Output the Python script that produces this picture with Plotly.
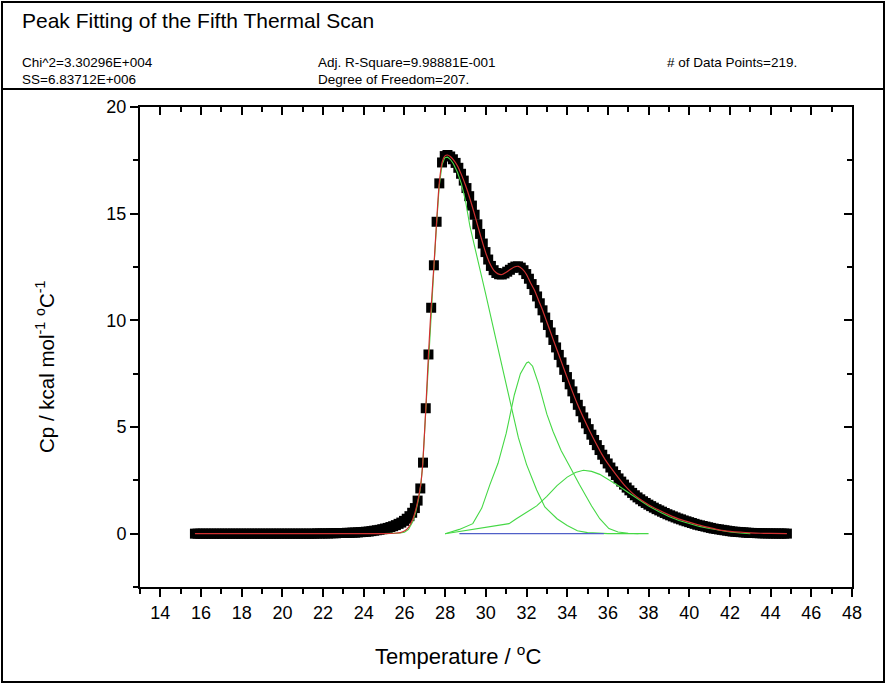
import numpy as np
import plotly.graph_objects as go

# ---------------- data ----------------
T_START, T_END = 15.7, 44.8   # first / last temperature of the scan (219 points)
cp_data = (
    [0.0] * 45 + [0.01] * 5 + [0.02] * 3 + [0.03] * 3 + [0.04] * 2 + [0.05] * 2 +
    [0.06, 0.07, 0.08, 0.09, 0.10, 0.12, 0.14, 0.16, 0.18, 0.21, 0.24, 0.27, 0.31,
     0.35, 0.40, 0.46, 0.52, 0.60, 0.70, 0.82, 0.98, 1.20, 1.55, 2.12, 3.33, 5.88,
     8.40, 10.59, 12.58, 14.62, 16.42, 17.40, 17.70, 17.75,
     17.68, 17.55, 17.38, 17.15, 16.87, 16.55, 16.20, 15.82, 15.38, 14.95, 14.50,
     14.05, 13.60, 13.20, 12.85, 12.55, 12.35, 12.22, 12.16, 12.15, 12.20, 12.28,
     12.37, 12.46, 12.52, 12.53, 12.47, 12.35, 12.17, 11.95, 11.70, 11.42, 11.12,
     10.80, 10.47, 10.13, 9.78, 9.43, 9.08, 8.73, 8.38, 8.03, 7.68, 7.34, 7.00,
     6.67, 6.35, 6.04, 5.74, 5.45, 5.17, 4.90, 4.64, 4.39, 4.15, 3.92, 3.70, 3.49,
     3.29, 3.10, 2.92, 2.75, 2.59, 2.44, 2.30, 2.16, 2.03, 1.91, 1.80, 1.70, 1.61,
     1.52, 1.44, 1.36, 1.29, 1.22, 1.15, 1.09, 1.03, 0.97, 0.91, 0.86, 0.81, 0.76,
     0.71, 0.67, 0.62, 0.58, 0.54, 0.50, 0.46, 0.42, 0.39, 0.36, 0.33, 0.30, 0.27,
     0.24, 0.22, 0.20, 0.18, 0.16, 0.14, 0.12, 0.10, 0.09, 0.08, 0.07, 0.06, 0.05,
     0.04, 0.035, 0.03, 0.025, 0.02, 0.017, 0.014, 0.012, 0.01, 0.008, 0.007,
     0.006, 0.005, 0.004, 0.003]
)

fit_T = [15.7, 20, 23, 24, 24.5, 25, 25.5, 25.8, 26.0, 26.2, 26.4, 26.55, 26.7, 26.8,
         26.9, 27.05, 27.18, 27.31, 27.45, 27.58, 27.71, 27.85, 27.98, 28.12, 28.25,
         28.4, 28.6, 28.8, 29.0, 29.2, 29.4, 29.6, 29.8, 30.0, 30.2, 30.4, 30.6, 30.8,
         31.0, 31.2, 31.4, 31.6, 31.8, 32.0, 32.2, 32.4, 32.6, 32.8, 33.0, 33.3, 33.6,
         33.9, 34.2, 34.5, 34.8, 35.1, 35.4, 35.7, 36.0, 36.4, 36.8, 37.2, 37.6, 38.0,
         38.5, 39.0, 39.5, 40.0, 40.5, 41.0, 41.5, 42.0, 42.5, 43.0, 43.5, 44.0, 44.8]
fit_cp = [0, 0, 0, 0, 0, 0.005, 0.02, 0.05, 0.12, 0.3, 0.65, 1.1, 1.75, 2.3,
          3.3, 5.88, 8.4, 10.59, 12.58, 14.62, 16.42, 17.4, 17.7, 17.75, 17.68,
          17.53, 17.25, 16.83, 16.33, 15.76, 15.12, 14.44, 13.77, 13.15, 12.66, 12.33, 12.18, 12.15,
          12.25, 12.38, 12.5, 12.53, 12.4, 12.15, 11.75, 11.4, 10.92, 10.45, 9.92, 9.13, 8.35,
          7.57, 6.8, 6.08, 5.43, 4.82, 4.26, 3.73, 3.28, 2.77, 2.29, 1.9, 1.6, 1.36,
          1.11, 0.88, 0.68, 0.54, 0.4, 0.28, 0.17, 0.11, 0.07, 0.04, 0.02, 0.01, 0.003]

peak1_T = [25.0, 25.5, 25.8, 26.0, 26.2, 26.4, 26.55, 26.7, 26.8, 26.9, 27.05, 27.18,
           27.31, 27.45, 27.58, 27.71, 27.85, 27.98, 28.12, 28.25, 28.4, 28.6, 28.8,
           29.0, 29.22, 29.5, 30.0, 30.5, 31.0, 31.6, 32.0, 32.5, 32.9, 33.5, 34.0,
           34.5, 35.0, 35.5, 36.0, 38.0]
peak1_cp = [0, 0.01, 0.03, 0.07, 0.2, 0.55, 1.0, 1.65, 2.25, 3.25, 5.8, 8.35,
            10.5, 12.5, 14.5, 16.3, 17.3, 17.62, 17.65, 17.55, 17.35, 16.95, 16.4,
            15.6, 14.4, 13.2, 11.2, 9.1, 7.0, 4.5, 3.25, 2.05, 1.25, 0.7, 0.38,
            0.14, 0.05, 0.01, 0, 0]

peak2_T = [28.0, 28.7, 29.36, 29.8, 30.2, 30.6, 31.0, 31.4, 31.7, 32.0, 32.1, 32.3,
           32.6, 33.0, 33.3, 33.7, 34.1, 34.6, 35.2, 35.6, 36.05, 36.5, 37.0, 37.5]
peak2_cp = [0, 0.2, 0.47, 1.2, 2.3, 3.3, 4.7, 6.5, 7.5, 8.0, 8.05, 7.85,
            7.0, 5.6, 4.8, 3.9, 3.2, 2.3, 1.3, 0.7, 0.24, 0.08, 0.02, 0]

peak3_T = [28.0, 29.0, 30.0, 31.14, 31.5, 32.0, 32.5, 33.0, 33.5, 34.0, 34.4, 34.8,
           35.2, 35.6, 36.0, 36.5, 37.0, 37.5, 38.0, 38.5, 39.0, 39.5, 40.0, 40.5,
           41.0, 41.5, 42.0, 42.5, 43.0]
peak3_cp = [0, 0.15, 0.3, 0.47, 0.7, 0.98, 1.3, 1.75, 2.25, 2.65, 2.87, 2.97,
            2.92, 2.78, 2.56, 2.26, 1.93, 1.6, 1.3, 1.04, 0.81, 0.62, 0.47, 0.34,
            0.24, 0.15, 0.08, 0.03, 0]

base_T = [28.7, 35.8]
base_cp = [0, 0]

x_ticks = list(range(14, 49, 2))
y_ticks = [0, 5, 10, 15, 20]

header_title = "Peak Fitting of the Fifth Thermal Scan"
stats = [
    ("Chi^2=3.30296E+004", 20, 62),
    ("SS=6.83712E+006", 20, 79),
    ("Adj. R-Square=9.98881E-001", 316, 62),
    ("Degree of Freedom=207.", 316, 79),
    ("# of Data Points=219.", 665, 62),
]

# ---------------- figure ----------------
W, H = 886, 684
L, R, TOP, BOT = 140, 852, 107, 587
FONT = "Arial, Liberation Sans, sans-serif"


def px(x):
    return (x - L) / (R - L)


def py(y):
    return (BOT - y) / (BOT - TOP)


temps = np.linspace(T_START, T_END, len(cp_data))

fig = go.Figure()
fig.add_trace(go.Scatter(x=temps, y=cp_data, mode="markers",
                         marker=dict(symbol="square", size=10, color="black",
                                     line=dict(width=0)),
                         showlegend=False, hoverinfo="skip"))
green = "#45d845"
for tx, ty in [(peak1_T, peak1_cp), (peak2_T, peak2_cp), (peak3_T, peak3_cp)]:
    fig.add_trace(go.Scatter(x=tx, y=ty, mode="lines",
                             line=dict(color=green, width=1.1),
                             showlegend=False, hoverinfo="skip"))
fig.add_trace(go.Scatter(x=base_T, y=base_cp, mode="lines",
                         line=dict(color="#5060c8", width=1.1),
                         showlegend=False, hoverinfo="skip"))
fig.add_trace(go.Scatter(x=fit_T, y=fit_cp, mode="lines",
                         line=dict(color="#d03030", width=1.2, shape="spline",
                                   smoothing=0.6),
                         showlegend=False, hoverinfo="skip"))
# dummy trace so that the mirrored (inside-tick) axes are drawn
fig.add_trace(go.Scatter(x=[None], y=[None], xaxis="x2", yaxis="y2",
                         showlegend=False, hoverinfo="skip"))

axis_common = dict(showgrid=False, zeroline=False, showline=True, linecolor="black",
                   linewidth=2, tickcolor="black", tickwidth=2)

fig.update_layout(
    width=W, height=H,
    margin=dict(l=L, r=W - R, t=TOP, b=H - BOT),
    paper_bgcolor="white", plot_bgcolor="white",
    font=dict(family=FONT, color="black"),
    xaxis=dict(range=[13, 48], tickvals=x_ticks, ticks="outside", ticklen=8,
               tickfont=dict(size=18), minor=dict(dtick=1, tick0=13, ticks="outside",
                                                  ticklen=5, tickwidth=2, tickcolor="black"),
               **axis_common),
    yaxis=dict(range=[-2.5, 20], tickvals=y_ticks, ticks="outside", ticklen=8,
               tickfont=dict(size=18), minor=dict(dtick=2.5, tick0=0, ticks="outside",
                                                  ticklen=5, tickwidth=2, tickcolor="black"),
               **axis_common),
    xaxis2=dict(range=[13, 48], overlaying="x", side="top", anchor="y2",
                tickvals=x_ticks, ticks="inside", ticklen=8, showticklabels=False,
                minor=dict(dtick=1, tick0=13, ticks="inside", ticklen=5, tickwidth=2,
                           tickcolor="black"),
                **axis_common),
    yaxis2=dict(range=[-2.5, 20], overlaying="y", side="right", anchor="x2",
                tickvals=y_ticks, ticks="inside", ticklen=8, showticklabels=False,
                minor=dict(dtick=2.5, tick0=0, ticks="inside", ticklen=5, tickwidth=2,
                           tickcolor="black"),
                **axis_common),
    showlegend=False,
)

annotations = [
    dict(text=header_title, x=px(20), y=py(20), xanchor="left", yanchor="middle",
         font=dict(size=21)),
    dict(text="Temperature / <sup>o</sup>C", x=px(458), y=py(655), xanchor="center",
         yanchor="middle", font=dict(size=22)),
    dict(text="Cp / kcal mol<sup>-1</sup> <sup>o</sup>C<sup>-1</sup>", x=px(45), y=py(367),
         xanchor="center", yanchor="middle", textangle=-90, font=dict(size=20.5)),
]
for txt, x0, y0 in stats:
    annotations.append(dict(text=txt, x=px(x0), y=py(y0), xanchor="left",
                            yanchor="middle", font=dict(size=13.5)))
for a in annotations:
    a.update(xref="paper", yref="paper", showarrow=False)
fig.update_layout(annotations=annotations)

fig.update_layout(shapes=[
    dict(type="rect", xref="paper", yref="paper", x0=px(2), x1=px(884), y0=py(2),
         y1=py(682), line=dict(color="black", width=2)),
    dict(type="line", xref="paper", yref="paper", x0=px(2), x1=px(884), y0=py(89),
         y1=py(89), line=dict(color="black", width=2)),
])

fig.write_html("out.html")
